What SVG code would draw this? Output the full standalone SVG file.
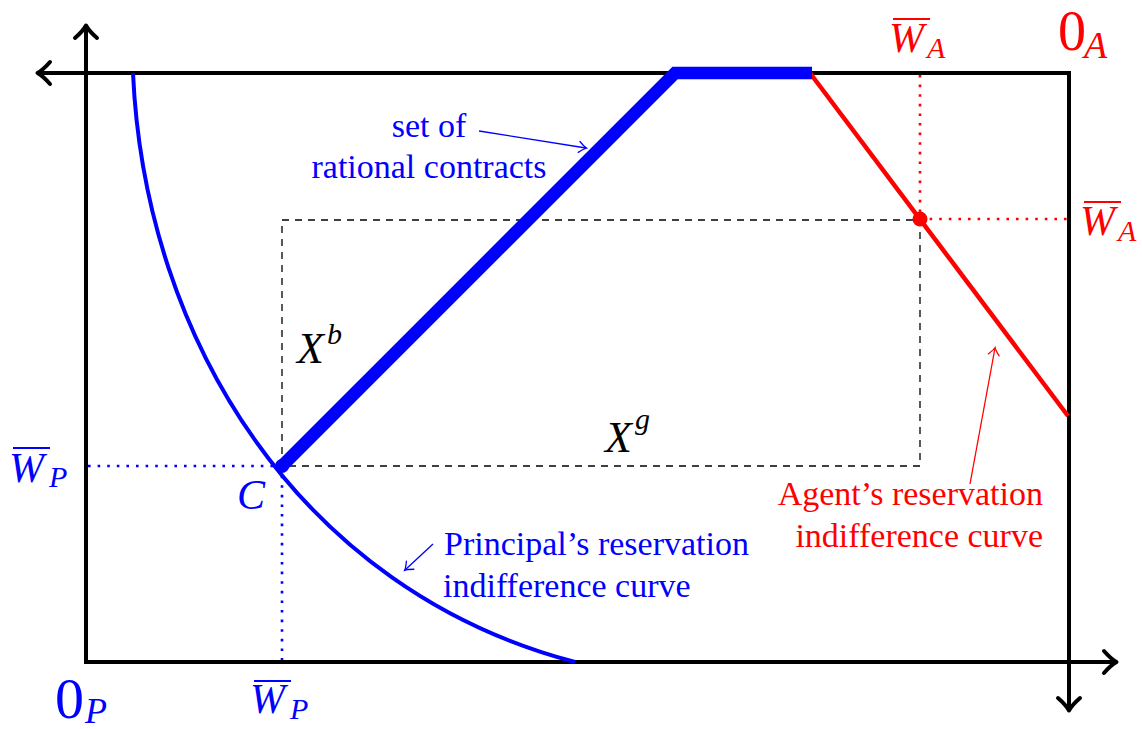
<svg xmlns="http://www.w3.org/2000/svg" width="1142" height="729" viewBox="0 0 1142 729">
<style>
.t{font-family:'Liberation Serif','Times New Roman','DejaVu Serif',serif;}
.m{font-family:'Liberation Serif','Times New Roman','DejaVu Serif',serif;font-style:italic;}
.blue{fill:#0000FF;}
.red{fill:#FF0000;}
.ax{fill:none;stroke:#000;stroke-width:4;}
.dash{fill:none;stroke:#000;stroke-width:1.3;stroke-dasharray:7 6;}
.dotb{fill:none;stroke:#0000FF;stroke-width:2.6;stroke-dasharray:2.6 7;}
.dotr{fill:none;stroke:#FF0000;stroke-width:2.6;stroke-dasharray:2.6 7;}
.ol{stroke-width:2;}
</style>
<defs>
<marker id="axh" viewBox="-14 -14 28 28" markerWidth="28" markerHeight="28" refX="0" refY="0" orient="auto" markerUnits="userSpaceOnUse" overflow="visible">
<path d="M-11,-11 Q-4,-3 1.5,0 Q-4,3 -11,11" fill="none" stroke="#000" stroke-width="4" stroke-linecap="round" stroke-linejoin="round"/>
</marker>
<marker id="ahb" viewBox="-10 -10 20 20" markerWidth="20" markerHeight="20" refX="0" refY="0" orient="auto" markerUnits="userSpaceOnUse" overflow="visible">
<path d="M-7,-5.5 Q-2,-1 0.5,0 Q-2,1 -7,5.5" fill="none" stroke="#0000FF" stroke-width="1.3" stroke-linecap="round"/>
</marker>
<marker id="ahr" viewBox="-10 -10 20 20" markerWidth="20" markerHeight="20" refX="0" refY="0" orient="auto" markerUnits="userSpaceOnUse" overflow="visible">
<path d="M-7,-5.5 Q-2,-1 0.5,0 Q-2,1 -7,5.5" fill="none" stroke="#FF0000" stroke-width="1.3" stroke-linecap="round"/>
</marker>
</defs>
<rect width="1142" height="729" fill="#fff"/>

<g id="guides">
<rect class="dash" x="282" y="220" width="638" height="246"/>
<path class="dotb" d="M88,466 H282 M282,466 V660"/>
<path class="dotr" d="M920,75 V219 M920,219 H1067"/>
</g>

<g id="axes">
<rect class="ax" x="86" y="73" width="983" height="589"/>
<path class="ax" d="M86,73 V27" marker-end="url(#axh)"/>
<path class="ax" d="M86,73 H39" marker-end="url(#axh)"/>
<path class="ax" d="M1069,662 H1115" marker-end="url(#axh)"/>
<path class="ax" d="M1069,662 V709" marker-end="url(#axh)"/>
</g>

<g id="principal-curve">
<path d="M133,73 C145,340 300,590 575,662" fill="none" stroke="#0000FF" stroke-width="4"/>
</g>

<g id="agent-curve">
<path d="M810,73 L1068,416" fill="none" stroke="#FF0000" stroke-width="4.5"/>
<circle cx="920" cy="219" r="7.5" fill="#FF0000"/>
</g>

<g id="rational-contracts">
<path d="M282,466 L675,73 L812,73" fill="none" stroke="#0000FF" stroke-width="12.6" stroke-linejoin="miter"/>
<circle cx="282" cy="466" r="7" fill="#0000FF"/>
</g>

<g id="connectors">
<path d="M479,131 L586,148" fill="none" stroke="#0000FF" stroke-width="1.3" marker-end="url(#ahb)"/>
<path d="M433,544 L405,570" fill="none" stroke="#0000FF" stroke-width="1.3" marker-end="url(#ahb)"/>
<path d="M970,484 L995,348" fill="none" stroke="#FF0000" stroke-width="1.3" marker-end="url(#ahr)"/>
</g>

<g id="labels" font-family="Liberation Serif, Times New Roman, serif">
<text class="t blue" font-size="34" text-anchor="middle" x="429" y="137">set of</text>
<text class="t blue" font-size="34" text-anchor="middle" x="429" y="178">rational contracts</text>
<text class="t blue" font-size="34" x="444" y="555">Principal’s reservation</text>
<text class="t blue" font-size="34" x="443" y="597">indifference curve</text>
<text class="t red" font-size="34" text-anchor="end" x="1043" y="505">Agent’s reservation</text>
<text class="t red" font-size="34" text-anchor="end" x="1043" y="547">indifference curve</text>

<text class="m" font-size="44" x="297" y="363">X</text>
<text class="m" font-size="30" x="327" y="344">b</text>
<text class="m" font-size="44" x="605" y="452">X</text>
<text class="m" font-size="30" x="635" y="429">g</text>

<text class="m blue" font-size="42" x="237" y="509">C</text>

<g id="wp-left">
<text class="m blue" font-size="42" x="9" y="482">W</text>
<text class="m blue" font-size="30" x="49" y="487">P</text>
<line class="ol" x1="13" y1="448" x2="50" y2="448" stroke="#0000FF"/>
</g>
<g id="wp-bottom">
<text class="m blue" font-size="42" x="250" y="713">W</text>
<text class="m blue" font-size="30" x="290" y="719">P</text>
<line class="ol" x1="254" y1="681" x2="291" y2="681" stroke="#0000FF"/>
</g>
<g id="wa-top">
<text class="m red" font-size="42" x="889" y="52">W</text>
<text class="m red" font-size="30" x="927" y="58">A</text>
<line class="ol" x1="893" y1="19" x2="930" y2="19" stroke="#FF0000"/>
</g>
<g id="wa-right">
<text class="m red" font-size="42" x="1080" y="235">W</text>
<text class="m red" font-size="30" x="1118" y="241">A</text>
<line class="ol" x1="1084" y1="202" x2="1121" y2="202" stroke="#FF0000"/>
</g>
<g id="origin-p">
<text class="t blue" font-size="58" x="55" y="718">0</text>
<text class="m blue" font-size="36" x="85" y="723">P</text>
</g>
<g id="origin-a">
<text class="t red" font-size="56" x="1058" y="50">0</text>
<text class="m red" font-size="38" x="1084" y="58">A</text>
</g>
</g>
</svg>
